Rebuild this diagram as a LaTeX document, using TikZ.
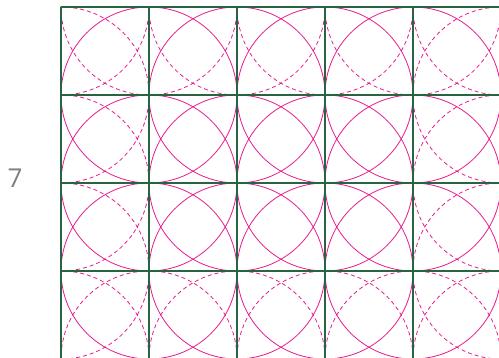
\documentclass[tikz,border=0pt]{standalone}
\usepackage{fontspec}
\setmainfont{Open Sans}
\definecolor{gridgreen}{RGB}{40,100,64}
\definecolor{mag}{RGB}{232,28,140}
\begin{document}
\begin{tikzpicture}[x=1pt,y=-1pt,
  solidc/.style={draw=mag,line width=0.8pt},
  dashc/.style={draw=mag,line width=0.8pt,dash pattern=on 4pt off 3pt},
  gridline/.style={draw=gridgreen,line width=1.3pt},
  labeltext/.style={text=gray,font=\fontsize{26}{26}\selectfont,anchor=base,inner sep=0pt}]
\useasboundingbox (0,0) rectangle (499,358);
\begin{scope}
  \clip (60.5,6.5) rectangle (499,358);
  \foreach \i in {0,...,5} {
    \foreach \j in {0,...,4} {
      \pgfmathtruncatemacro\inner{(\i>0)&&(\i<5)&&(\j>0)&&(\j<4)}
      \ifnum\inner=1
        \draw[solidc] ({61+88*\i},{7+88*\j}) circle[radius=88];
      \else
        \draw[dashc] ({61+88*\i},{7+88*\j}) circle[radius=88];
      \fi
    }
  }
\end{scope}
\foreach \i in {0,...,4} {
  \draw[gridline] ({61+88*\i},7) -- ({61+88*\i},358);
}
\foreach \j in {0,...,3} {
  \draw[gridline] (61,{7+88*\j}) -- (499,{7+88*\j});
}
\node[labeltext] (lbl) at (15,188) {7};
\end{tikzpicture}
\end{document}
